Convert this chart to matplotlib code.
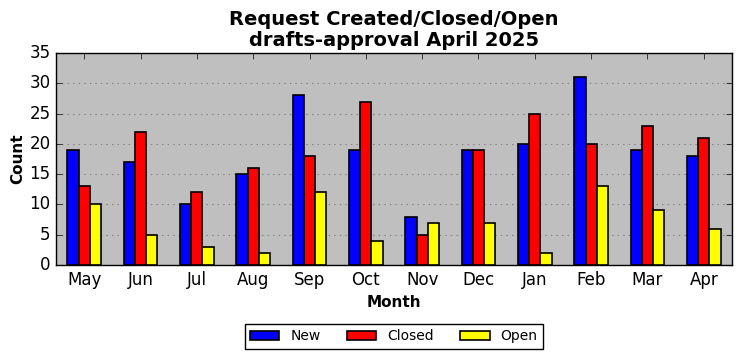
import numpy as np
import matplotlib.pyplot as plt

months = ["May", "Jun", "Jul", "Aug", "Sep", "Oct", "Nov", "Dec", "Jan", "Feb", "Mar", "Apr"]
new_counts = [19, 17, 10, 15, 28, 19, 8, 19, 20, 31, 19, 18]
closed_counts = [13, 22, 12, 16, 18, 27, 5, 19, 25, 20, 23, 21]
open_counts = [10, 5, 3, 2, 12, 4, 7, 7, 2, 13, 9, 6]

plt.style.use("classic")

fig = plt.figure(figsize=(7.42, 3.61), dpi=100)
ax = fig.add_axes([0.0755, 0.266, 0.911, 0.587])
ax.set_facecolor("#bfbfbf")

x = np.arange(len(months))
w = 0.2
ax.bar(x - w, new_counts, w, color="blue", edgecolor="black", linewidth=1.2, label="New", zorder=3)
ax.bar(x, closed_counts, w, color="red", edgecolor="black", linewidth=1.2, label="Closed", zorder=3)
ax.bar(x + w, open_counts, w, color="yellow", edgecolor="black", linewidth=1.2, label="Open", zorder=3)

ax.set_xlim(-0.5, len(months) - 0.5)
ax.set_ylim(0, 35)
ax.set_xticks(x)
ax.set_xticklabels(months, fontsize=12)
ax.set_yticks(range(0, 36, 5))
ax.tick_params(axis="y", labelsize=12)
ax.yaxis.grid(True, linestyle=":", color="#808080", linewidth=0.8, zorder=0)
ax.set_axisbelow(True)

ax.set_xlabel("Month", fontsize=11, fontweight="bold")
ax.set_ylabel("Count", fontsize=11, fontweight="bold", labelpad=3)
ax.set_title("Request Created/Closed/Open\ndrafts-approval April 2025", fontsize=14, fontweight="bold",
             linespacing=1.15)

ax.legend(loc="upper center", bbox_to_anchor=(0.5, -0.245), ncol=3, fontsize=10,
          frameon=True, fancybox=False, edgecolor="black", handlelength=2.1,
          columnspacing=1.9, handletextpad=0.8, borderpad=0.4)

fig.savefig("out.png", dpi=100)
